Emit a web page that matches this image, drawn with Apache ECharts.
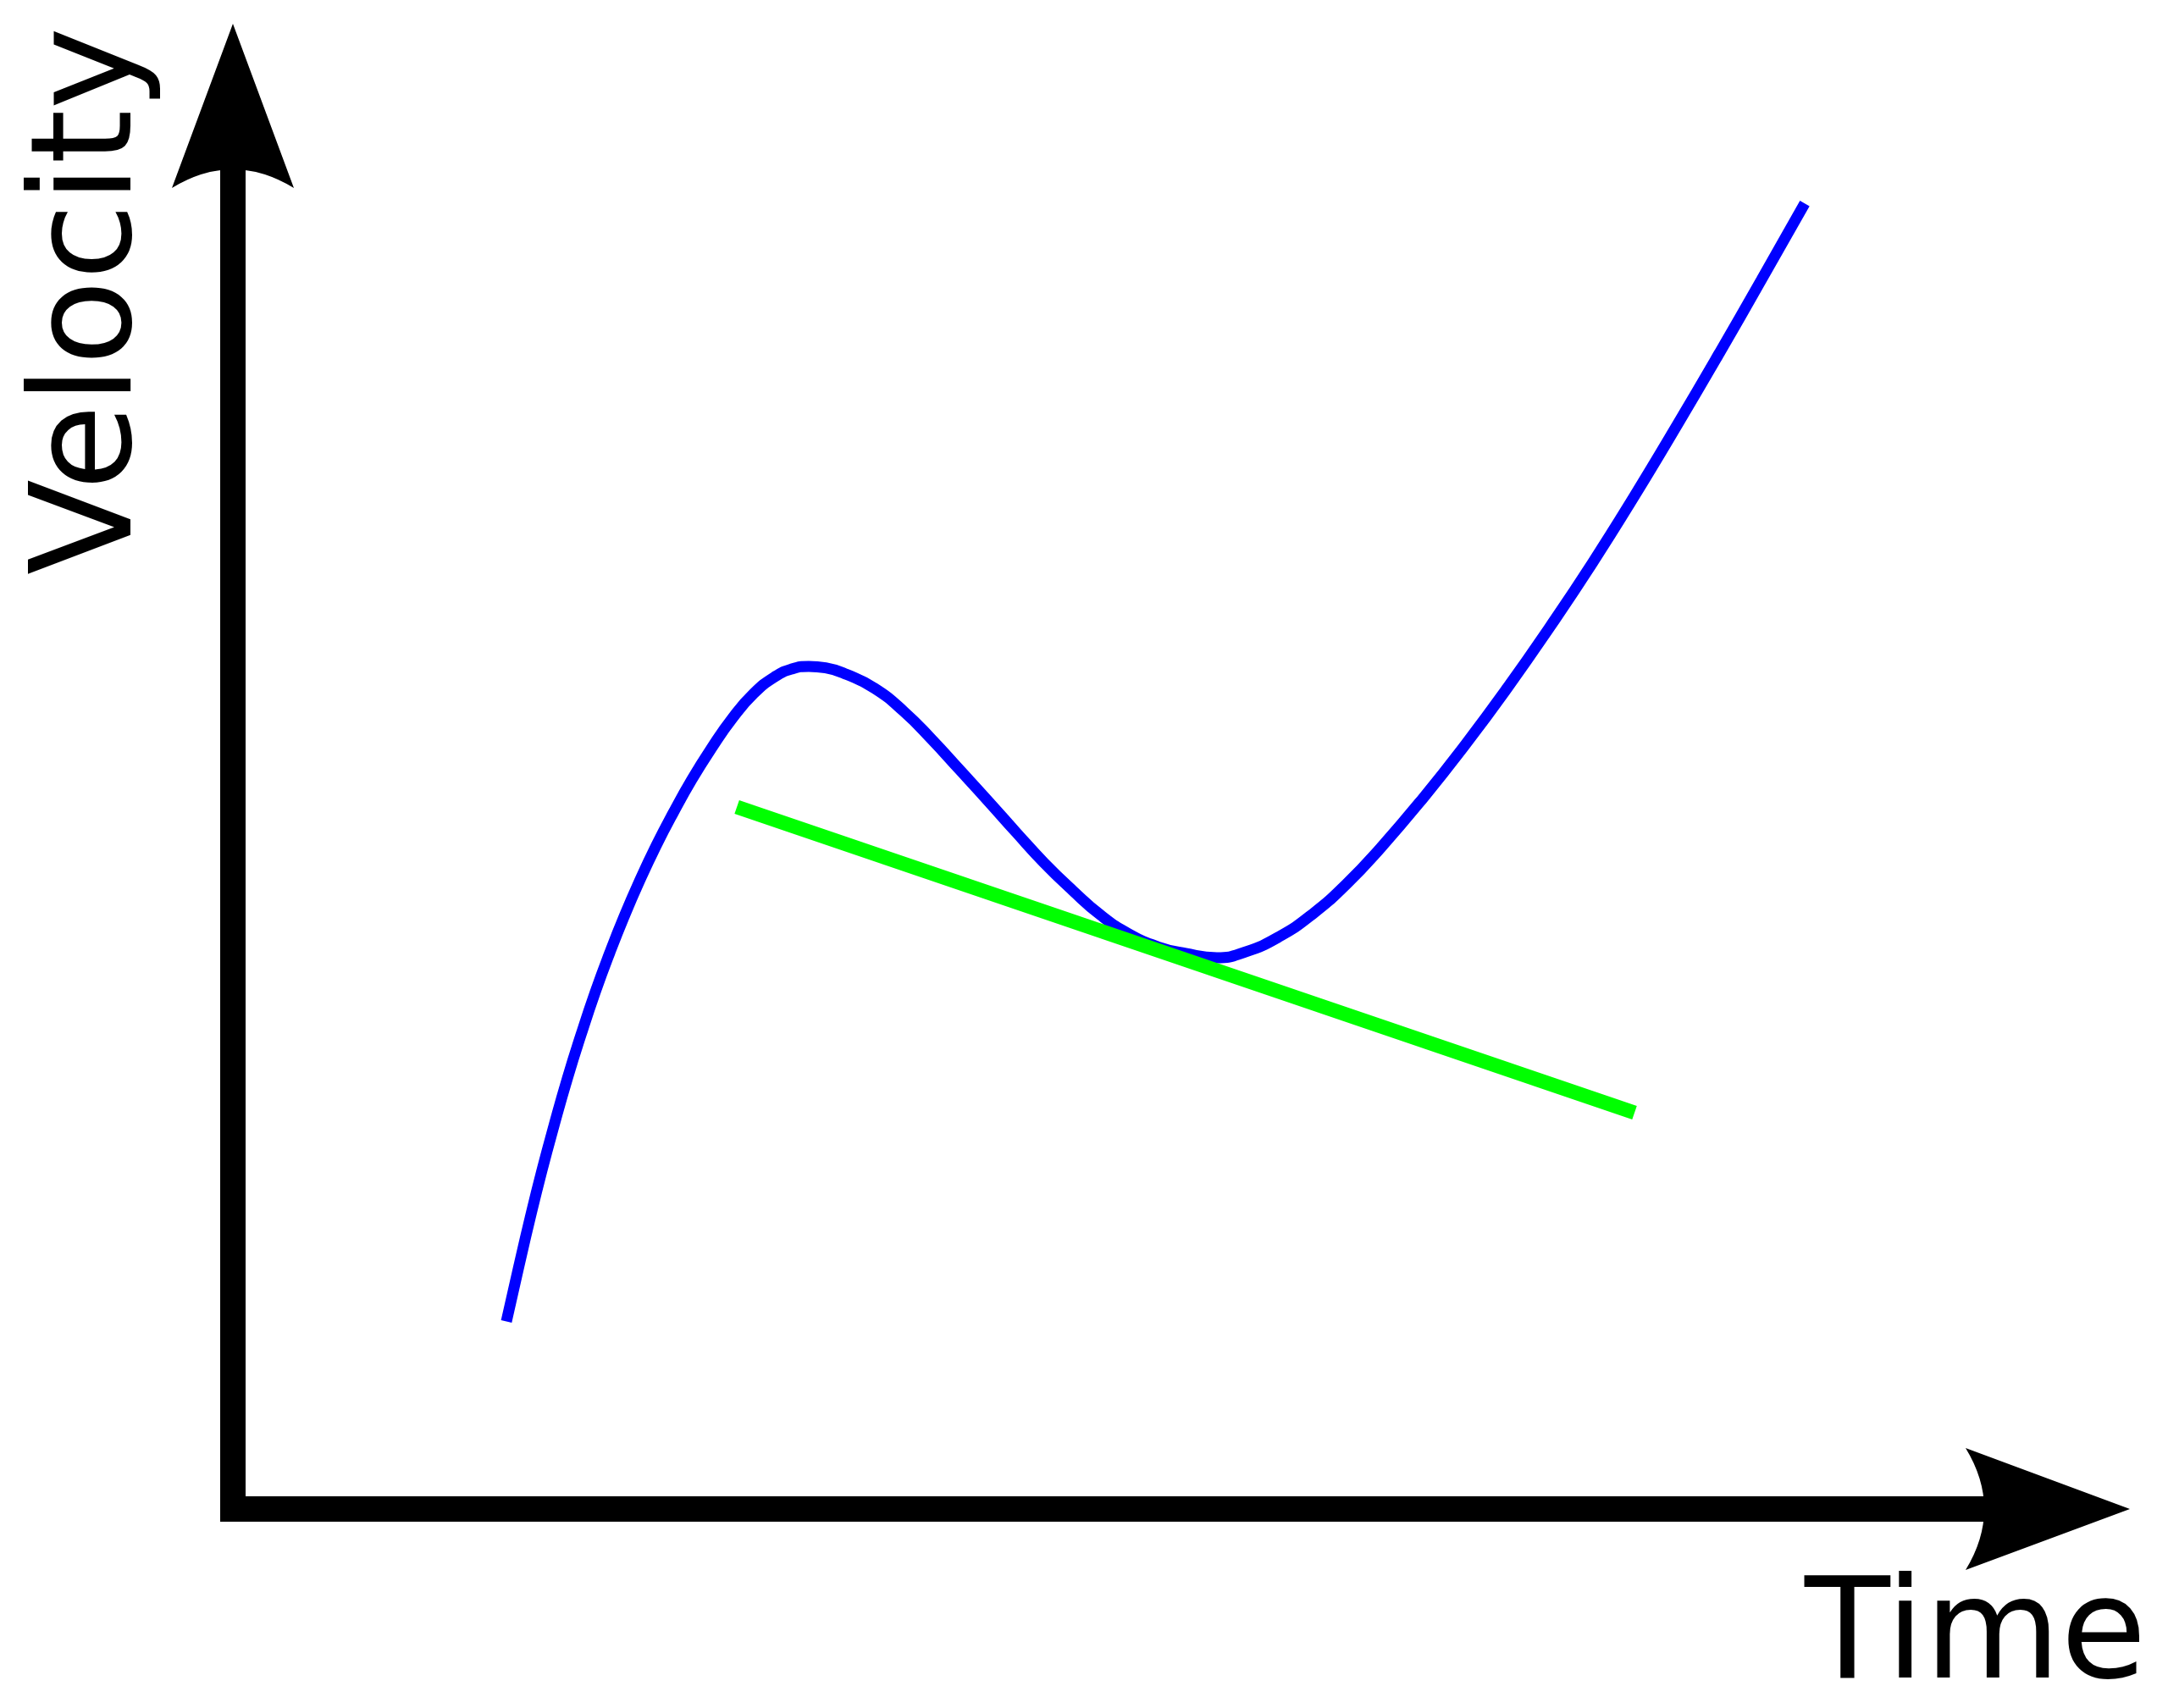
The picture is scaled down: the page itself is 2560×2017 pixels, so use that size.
<!DOCTYPE html>
<html>
<head>
<meta charset="utf-8">
<script src="https://cdn.jsdelivr.net/npm/echarts@6/dist/echarts.min.js"></script>
<style>
html,body{margin:0;padding:0;background:#fff;}
#chart{width:2560px;height:2017px;}
</style>
</head>
<body>
<div id="chart"></div>
<script>
// Velocity curve (time, velocity) in arbitrary units
const velocityTime = [15.07,15.73,16.38,17.03,17.69,18.43,19.18,19.97,20.77,21.56,22.40,23.33,24.27,25.29,26.37,27.53,28.70,29.87,30.80,31.73,32.66,33.83,35.37,36.96,38.50,40.04,41.62,43.16,44.70,46.29,47.83,49.37,50.96,52.50,54.22,55.76,57.63,59.50,61.36,63.23,65.56,67.90,70.23,72.56,74.90,77.23,79.56,81.90,84.23,86.61];
const velocityValue = [13.37,17.14,20.74,24.13,27.31,30.68,33.79,36.85,39.66,42.23,44.74,47.29,49.63,51.99,54.22,56.37,58.12,59.32,59.87,60.05,59.95,59.47,58.48,56.85,54.86,52.69,50.45,48.22,46.05,44.06,42.31,40.98,40.07,39.59,39.29,39.69,40.77,42.41,44.54,47.10,50.63,54.46,58.53,62.85,67.40,72.20,77.21,82.37,87.62,93.04];
// Tangent line at the local minimum
const tangentTime = [27.77, 77.23];
const tangentValue = [50.03, 28.24];
const xAxisName = 'Time';
const yAxisName = 'Velocity';

const arrowPath = 'path://M72,0 L144,194 Q72,150 0,194 Z';

const chart = echarts.init(document.getElementById('chart'), null, {renderer: 'canvas'});
const axisCommon = {
  type: 'value', min: 0, max: 100,
  axisLine: {
    show: true, onZero: false,
    symbol: ['none', arrowPath],
    symbolSize: [144, 194],
    lineStyle: {color: '#000', width: 30, cap: 'square'}
  },
  axisTick: {show: false}, axisLabel: {show: false}, splitLine: {show: false}
};
chart.setOption({
  backgroundColor: '#ffffff',
  animation: false,
  grid: {left: 275, right: 142, top: 125, bottom: 235, containLabel: false},
  xAxis: Object.assign({}, axisCommon),
  yAxis: Object.assign({}, axisCommon),
  series: [
    {
      type: 'line',
      data: velocityTime.map((t, i) => [t, velocityValue[i]]),
      smooth: 0.5, showSymbol: false, symbol: 'none',
      lineStyle: {color: '#0000ff', width: 13, cap: 'butt'},
      z: 2
    },
    {
      type: 'line',
      data: tangentTime.map((t, i) => [t, tangentValue[i]]),
      showSymbol: false, symbol: 'none',
      lineStyle: {color: '#00ff00', width: 17, cap: 'butt'},
      z: 3
    }
  ],
  graphic: [
    {
      type: 'text', x: 2131, y: 1938,
      style: {text: xAxisName, font: '165px "DejaVu Sans"', fill: '#000', textAlign: 'left', textVerticalAlign: 'middle'}
    },
    {
      type: 'text', x: 111, y: 679, rotation: Math.PI / 2,
      style: {text: yAxisName, font: '165px "DejaVu Sans"', fill: '#000', textAlign: 'left', textVerticalAlign: 'middle'}
    }
  ]
});
</script>
</body>
</html>
